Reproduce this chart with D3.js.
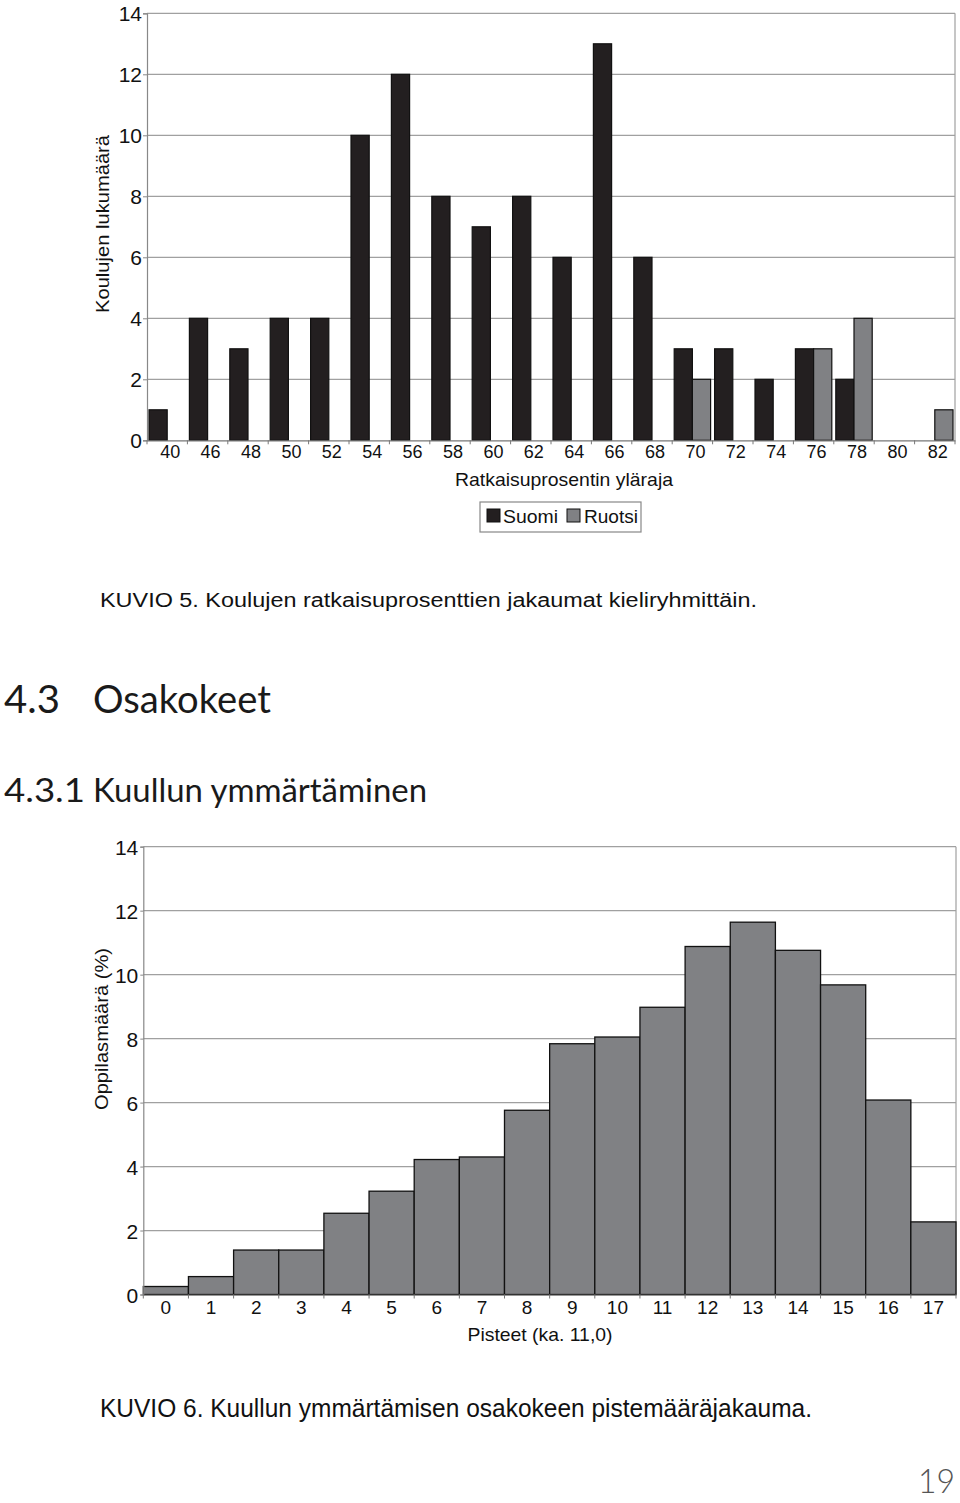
<!DOCTYPE html>
<html><head><meta charset="utf-8">
<script src="https://cdn.jsdelivr.net/npm/d3@7"></script>
<style>
body{margin:0;background:#fff;}
svg{display:block;}
.ar{font-family:"Liberation Sans",Arial,sans-serif;fill:#111;}
.fu{font-family:Lato,"Open Sans",sans-serif;fill:#1a1a1a;}
</style></head>
<body>
<script>
// ---- Chart 1 data ----
const cats1 = ["40","46","48","50","52","54","56","58","60","62","64","66","68","70","72","74","76","78","80","82"];
const suomi = [1,4,3,4,4,10,12,8,7,8,6,13,6,3,3,2,3,2,0,0];
const ruotsi = [0,0,0,0,0,0,0,0,0,0,0,0,0,2,0,0,3,4,0,1];
const series1 = ["Suomi","Ruotsi"];
const yTicks1 = [0,2,4,6,8,10,12,14];

// ---- Chart 2 data ----
const cats2 = ["0","1","2","3","4","5","6","7","8","9","10","11","12","13","14","15","16","17"];
const pct2 = [0.25,0.56,1.39,1.39,2.54,3.23,4.22,4.30,5.76,7.84,8.05,8.98,10.88,11.64,10.76,9.68,6.08,2.27];
const yTicks2 = [0,2,4,6,8,10,12,14];

const colors = {Suomi:"#231f20", Ruotsi:"#808184"};

const svg = d3.select("body").append("svg").attr("width",960).attr("height",1503);

// ================= Chart 1 =================
{
  const L=147, R=955, T=13.3, B=440.3;
  const x = d3.scaleBand().domain(cats1).range([L,R]).padding(0);
  const x1 = d3.scaleBand().domain(series1).range([2, x.bandwidth()-2]).padding(0);
  const y = d3.scaleLinear().domain([0,14]).range([B,T]);
  const g = svg.append("g");
  g.selectAll("line.grid").data(yTicks1.filter(d=>d>0)).join("line")
    .attr("x1",L).attr("x2",R).attr("y1",d=>y(d)).attr("y2",d=>y(d))
    .attr("stroke","#a0a0a0").attr("stroke-width",1.2);
  g.append("line").attr("x1",R).attr("x2",R).attr("y1",T).attr("y2",B).attr("stroke","#a0a0a0").attr("stroke-width",1.2);
  const data = cats1.map((c,i)=>({c, vals:[{k:"Suomi",v:suomi[i]},{k:"Ruotsi",v:ruotsi[i]}]}));
  const grp = g.selectAll("g.grp").data(data).join("g").attr("transform",d=>`translate(${x(d.c)},0)`);
  grp.selectAll("rect").data(d=>d.vals.filter(e=>e.v>0)).join("rect")
    .attr("x",d=>x1(d.k)).attr("width",x1.bandwidth())
    .attr("y",d=>y(d.v)).attr("height",d=>y(0)-y(d.v))
    .attr("fill",d=>colors[d.k]).attr("stroke","#111").attr("stroke-width",1.2);
  const ya = g.append("g").attr("transform",`translate(${L},0)`)
    .call(d3.axisLeft(y).tickValues(yTicks1).tickSize(4).tickPadding(1));
  ya.select(".domain").attr("stroke","#888").attr("stroke-width",1.2);
  ya.selectAll(".tick line").attr("stroke","#888");
  ya.selectAll("text").attr("class","ar").attr("font-size",21).attr("fill","#111").attr("dy","0.36em");
  const xa = g.append("g").attr("transform",`translate(0,${B})`)
    .call(d3.axisBottom(x).tickSize(0).tickPadding(0));
  xa.select(".domain").attr("stroke","#777").attr("stroke-width",1.2);
  xa.selectAll("text").attr("class","ar").attr("font-size",18).attr("fill","#111").attr("dy","0").attr("y",18).attr("dx",3);
  g.selectAll("line.bt").data(d3.range(cats1.length+1)).join("line")
    .attr("x1",i=>L+i*x.step()).attr("x2",i=>L+i*x.step()).attr("y1",B).attr("y2",B+4)
    .attr("stroke","#777");
  g.append("text").attr("class","ar").attr("font-size",19).attr("text-anchor","middle")
    .attr("transform","translate(109,224) rotate(-90)")
    .attr("textLength",178).attr("lengthAdjust","spacingAndGlyphs").text("Koulujen lukumäärä");
  g.append("text").attr("class","ar").attr("font-size",19).attr("text-anchor","middle")
    .attr("x",564).attr("y",486)
    .attr("textLength",218).attr("lengthAdjust","spacingAndGlyphs").text("Ratkaisuprosentin yläraja");
  const lg = g.append("g");
  lg.append("rect").attr("x",480).attr("y",502).attr("width",161).attr("height",30).attr("fill","none").attr("stroke","#888").attr("stroke-width",1.2);
  const lx = [487,567], tx=[503,584], tw=[55,54];
  series1.forEach((s,i)=>{
    lg.append("rect").attr("x",lx[i]).attr("y",509).attr("width",13).attr("height",13).attr("fill",colors[s]).attr("stroke","#111");
    lg.append("text").attr("class","ar").attr("font-size",19).attr("x",tx[i]).attr("y",523)
      .attr("textLength",tw[i]).attr("lengthAdjust","spacingAndGlyphs").text(s);
  });
}

// ================= Text =================
svg.append("text").attr("class","ar").attr("font-size",20).attr("x",100).attr("y",607)
  .attr("textLength",657).attr("lengthAdjust","spacingAndGlyphs")
  .text("KUVIO 5. Koulujen ratkaisuprosenttien jakaumat kieliryhmittäin.");
svg.append("text").attr("class","fu").attr("font-size",38).attr("x",4).attr("y",713)
  .attr("textLength",56).attr("lengthAdjust","spacingAndGlyphs").text("4.3");
svg.append("text").attr("class","fu").attr("font-size",38).attr("x",93).attr("y",713)
  .attr("textLength",178).attr("lengthAdjust","spacingAndGlyphs").text("Osakokeet");
svg.append("text").attr("class","fu").attr("font-size",33).attr("x",4).attr("y",802)
  .attr("textLength",81).attr("lengthAdjust","spacingAndGlyphs").text("4.3.1");
svg.append("text").attr("class","fu").attr("font-size",33).attr("x",93).attr("y",802)
  .attr("textLength",334).attr("lengthAdjust","spacingAndGlyphs").text("Kuullun ymmärtäminen");

// ================= Chart 2 =================
{
  const L=143.3, R=956, T=846.7, B=1294.5;
  const x = d3.scaleBand().domain(cats2).range([L,R]).padding(0);
  const y = d3.scaleLinear().domain([0,14]).range([B,T]);
  const g = svg.append("g");
  g.selectAll("line.grid").data(yTicks2.filter(d=>d>0)).join("line")
    .attr("x1",L).attr("x2",R).attr("y1",d=>y(d)).attr("y2",d=>y(d))
    .attr("stroke","#a0a0a0").attr("stroke-width",1.2);
  g.append("line").attr("x1",R).attr("x2",R).attr("y1",T).attr("y2",B).attr("stroke","#a0a0a0").attr("stroke-width",1.2);
  g.selectAll("rect.bar").data(cats2.map((c,i)=>({c,v:pct2[i]}))).join("rect")
    .attr("x",d=>x(d.c)).attr("width",x.bandwidth())
    .attr("y",d=>y(d.v)).attr("height",d=>y(0)-y(d.v))
    .attr("fill",colors.Ruotsi).attr("stroke","#111").attr("stroke-width",1.3);
  const ya = g.append("g").attr("transform",`translate(${L},0)`)
    .call(d3.axisLeft(y).tickValues(yTicks2).tickSize(3).tickPadding(2));
  ya.select(".domain").attr("stroke","#888").attr("stroke-width",1.2);
  ya.selectAll(".tick line").attr("stroke","#888");
  ya.selectAll("text").attr("class","ar").attr("font-size",21).attr("fill","#111").attr("dy","0.36em");
  const xa = g.append("g").attr("transform",`translate(0,${B})`)
    .call(d3.axisBottom(x).tickSize(0).tickPadding(0));
  xa.select(".domain").attr("stroke","#555").attr("stroke-width",1.2);
  xa.selectAll("text").attr("class","ar").attr("font-size",19).attr("fill","#111").attr("dy","0").attr("y",19);
  g.selectAll("line.bt").data(d3.range(cats2.length+1)).join("line")
    .attr("x1",i=>L+i*x.step()).attr("x2",i=>L+i*x.step()).attr("y1",B).attr("y2",B+4)
    .attr("stroke","#777");
  g.append("text").attr("class","ar").attr("font-size",19).attr("text-anchor","middle")
    .attr("transform","translate(108,1029) rotate(-90)")
    .attr("textLength",162).attr("lengthAdjust","spacingAndGlyphs").text("Oppilasmäärä (%)");
  g.append("text").attr("class","ar").attr("font-size",19).attr("text-anchor","middle")
    .attr("x",540).attr("y",1341)
    .attr("textLength",145).attr("lengthAdjust","spacingAndGlyphs").text("Pisteet (ka. 11,0)");
}

svg.append("text").attr("class","ar").attr("font-size",25).attr("x",100).attr("y",1417)
  .attr("textLength",712).attr("lengthAdjust","spacingAndGlyphs")
  .text("KUVIO 6. Kuullun ymmärtämisen osakokeen pistemääräjakauma.");
svg.append("text").attr("class","fu").attr("font-size",34).attr("font-weight",300)
  .style("fill","#555").attr("x",918).attr("y",1493).attr("textLength",37).attr("lengthAdjust","spacingAndGlyphs").text("19");
</script>
</body></html>
